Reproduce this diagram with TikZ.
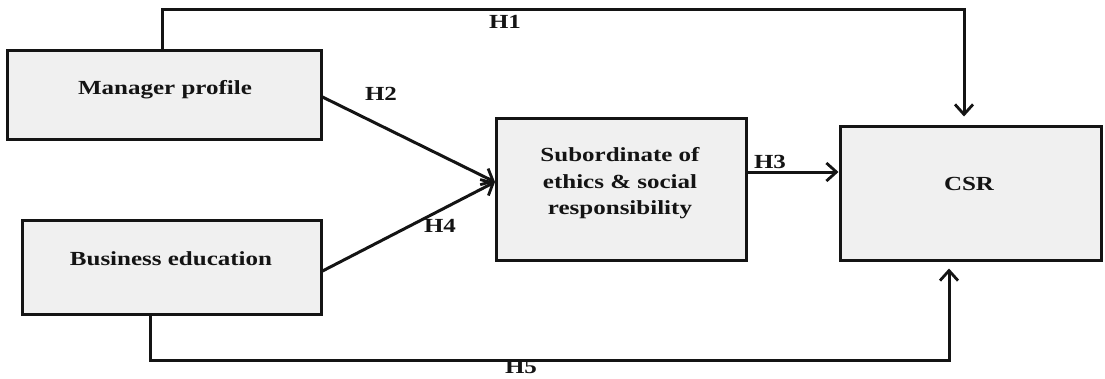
\documentclass[tikz,border=0pt]{standalone}
\usepackage{fontspec}
\setmainfont{Liberation Serif}[FakeStretch=1.25]
\usetikzlibrary{arrows.meta}
\definecolor{boxfill}{HTML}{F0F0F0}
\definecolor{ink}{HTML}{141414}
\begin{document}
\begin{tikzpicture}[x=1pt,y=-1pt,
  box/.style={draw=ink,fill=boxfill,line width=3pt,inner sep=0pt,rectangle},
  txt/.style={text=ink,font=\fontsize{20}{26.5}\selectfont\bfseries,inner sep=0pt},
  conn/.style={draw=ink,line width=3pt},
  arr/.style={conn,-{Straight Barb[length=10pt,width=18pt,line width=2.8pt]}}]
\useasboundingbox (0,0) rectangle (1105,378);
% boxes
\node[box,minimum width=314pt,minimum height=89pt] (mp) at (164,94.5) {};
\node[box,minimum width=299pt,minimum height=94pt] (be) at (171.5,267) {};
\node[box,minimum width=250pt,minimum height=142pt] (sub) at (621,189) {};
\node[box,minimum width=261pt,minimum height=134pt] (csr) at (970.5,193) {};
% box texts
\node[txt,anchor=base] (mpt) at (165,94) {Manager profile};
\node[txt,anchor=base] (bet) at (171,265) {Business education};
\node[txt,align=center] (subt) at (620,183.5) {Subordinate of\\ethics \& social\\responsibility};
\node[txt,anchor=base] (csrt) at (969,190) {CSR};
% helper coordinates
\coordinate (h1a) at (162,9);
\coordinate (h1b) at (964,9);
\coordinate (h5a) at (150,360);
\coordinate (h5b) at (949,360);
\coordinate (jn) at (495,182);
\coordinate (h3y) at (0,172);
% connectors
\draw[arr,shorten >=8pt] (mp.north -| h1a) -- (h1a) -- (h1b) -- (csr.north -| h1b);
\draw[arr,shorten >=7pt] (be.south -| h5a) -- (h5a) -- (h5b) -- (csr.south -| h5b);
\draw[arr] (mp.east |- 0,97) -- (jn);
\draw[arr] (be.east |- 0,271) -- (jn);
\draw[arr] (sub.east |- h3y) -- (csr.west |- h3y);
% labels
\node[txt,anchor=base] (l1) at (505,28) {H1};
\node[txt,anchor=base] (l2) at (381,100) {H2};
\node[txt,anchor=base] (l4) at (440,232) {H4};
\node[txt,anchor=base] (l3) at (770,168) {H3};
\node[txt,anchor=base] (l5) at (521,373) {H5};
\end{tikzpicture}
\end{document}
